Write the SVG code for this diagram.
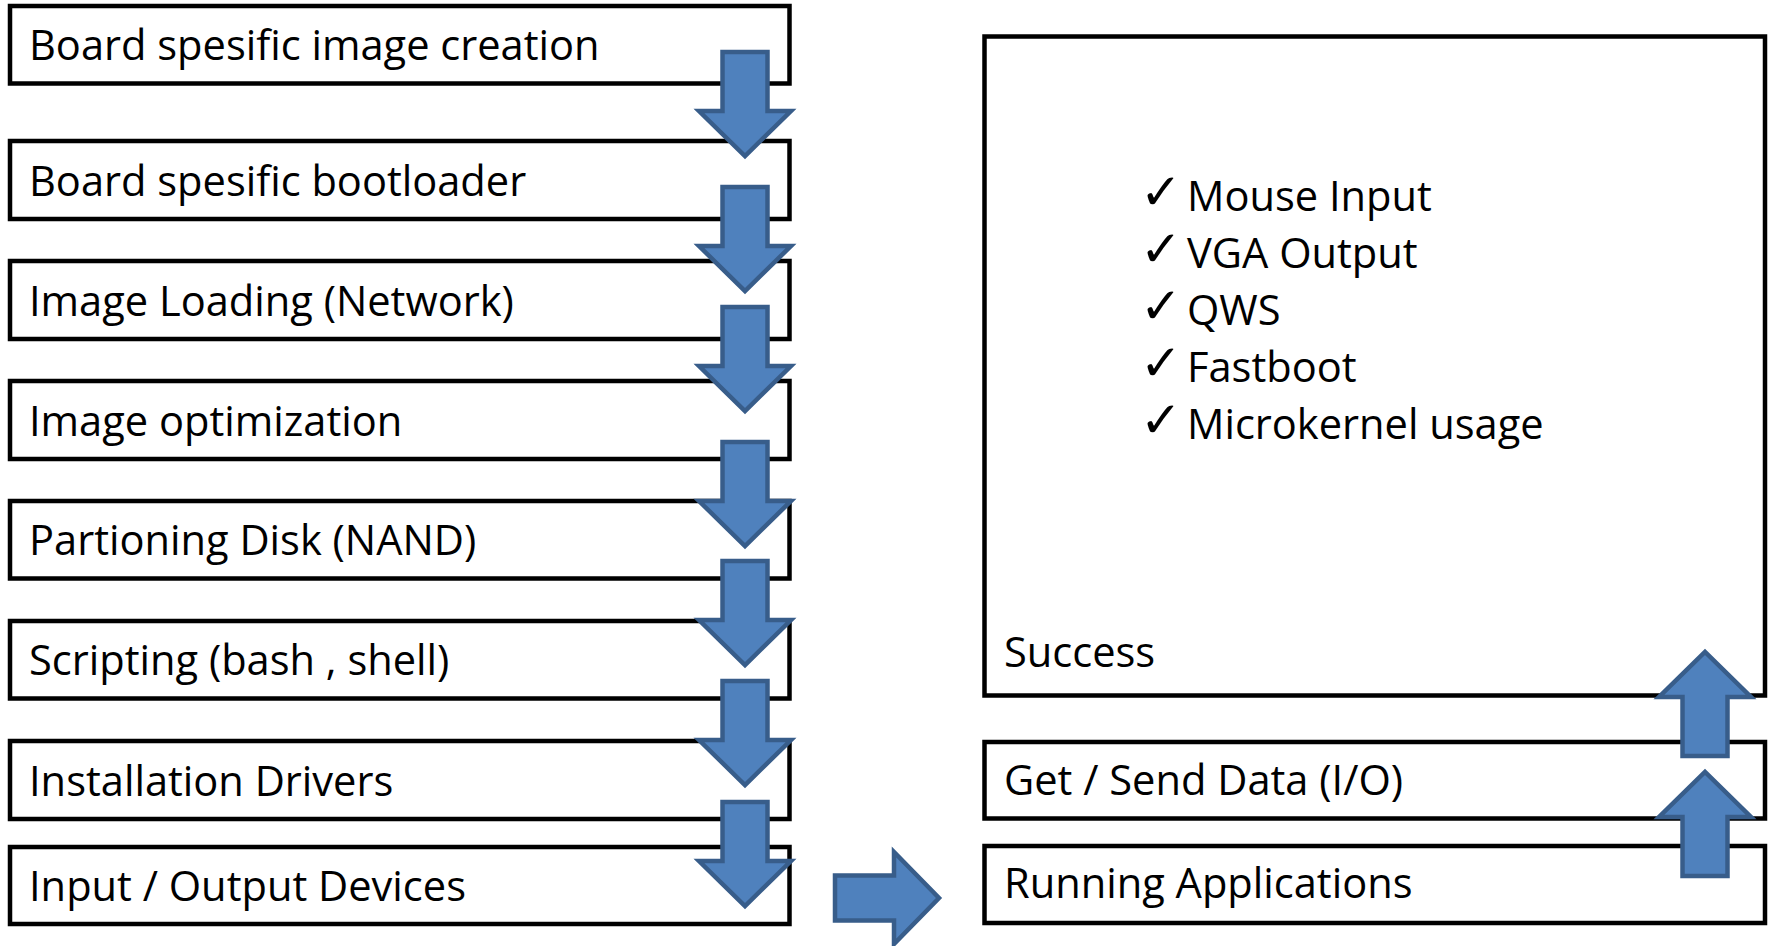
<svg xmlns="http://www.w3.org/2000/svg" xmlns:xlink="http://www.w3.org/1999/xlink" width="1773" height="946" viewBox="0 0 1773 946">
<style>
.box{fill:#fff;stroke:#000;stroke-width:4.5;}
.lbl{font-family:"Open Sans","Liberation Sans",sans-serif;font-size:41.6px;fill:#000;}
.chk{font-family:"DejaVu Sans",sans-serif;font-size:50px;font-weight:bold;fill:#000;}
.arr{fill:#4F81BD;stroke:#385D8A;stroke-width:4.5;stroke-miterlimit:10;}
</style>
<defs>
<path id="down" d="M-22.5,0 H22.5 V59 H46 L0,104 L-46,59 H-22.5 Z"/>
</defs>
<rect width="1773" height="946" fill="#fff"/>
<g id="n1"><rect class="box" x="10" y="6" width="779.5" height="77.5"/><text class="lbl" x="29" y="60">Board spesific image creation</text></g>
<g id="n2"><rect class="box" x="10" y="141" width="779.5" height="78"/><text class="lbl" x="29" y="195.5">Board spesific bootloader</text></g>
<g id="n3"><rect class="box" x="10" y="261" width="779.5" height="78"/><text class="lbl" x="29" y="315.5">Image Loading (Network)</text></g>
<g id="n4"><rect class="box" x="10" y="381" width="779.5" height="78"/><text class="lbl" x="29" y="435.5">Image optimization</text></g>
<g id="n5"><rect class="box" x="10" y="501" width="779.5" height="77.5"/><text class="lbl" x="29" y="555">Partioning Disk (NAND)</text></g>
<g id="n6"><rect class="box" x="10" y="621" width="779.5" height="77.5"/><text class="lbl" x="29" y="675">Scripting (bash , shell)</text></g>
<g id="n7"><rect class="box" x="10" y="741" width="779.5" height="78"/><text class="lbl" x="29" y="795.5">Installation Drivers</text></g>
<g id="n8"><rect class="box" x="10" y="847" width="779.5" height="77"/><text class="lbl" x="29" y="901">Input / Output Devices</text></g>
<g id="n9"><rect class="box" x="984.5" y="36.5" width="780.5" height="659"/>
<text class="lbl" x="1004" y="667">Success</text>
<text class="chk" x="1140" y="209">✓</text><text class="lbl" x="1187" y="211">Mouse Input</text>
<text class="chk" x="1140" y="266">✓</text><text class="lbl" x="1187" y="268">VGA Output</text>
<text class="chk" x="1140" y="323">✓</text><text class="lbl" x="1187" y="325">QWS</text>
<text class="chk" x="1140" y="380">✓</text><text class="lbl" x="1187" y="382">Fastboot</text>
<text class="chk" x="1140" y="437">✓</text><text class="lbl" x="1187" y="439">Microkernel usage</text>
</g>
<g id="n10"><rect class="box" x="984.5" y="742" width="780.5" height="76.5"/><text class="lbl" x="1004" y="795">Get / Send Data (I/O)</text></g>
<g id="n11"><rect class="box" x="984.5" y="846" width="780.5" height="77"/><text class="lbl" x="1004" y="898">Running Applications</text></g>
<g id="connectors">
<use class="arr" xlink:href="#down" href="#down" transform="translate(745,52)"/>
<use class="arr" xlink:href="#down" href="#down" transform="translate(745,187)"/>
<use class="arr" xlink:href="#down" href="#down" transform="translate(745,307)"/>
<use class="arr" xlink:href="#down" href="#down" transform="translate(745,442)"/>
<use class="arr" xlink:href="#down" href="#down" transform="translate(745,561)"/>
<use class="arr" xlink:href="#down" href="#down" transform="translate(745,681)"/>
<use class="arr" xlink:href="#down" href="#down" transform="translate(745,802)"/>
<use class="arr" xlink:href="#down" href="#down" transform="translate(835,898) rotate(-90)"/>
<use class="arr" xlink:href="#down" href="#down" transform="translate(1705,876) rotate(180)"/>
<use class="arr" xlink:href="#down" href="#down" transform="translate(1705,756) rotate(180)"/>
</g>
</svg>
